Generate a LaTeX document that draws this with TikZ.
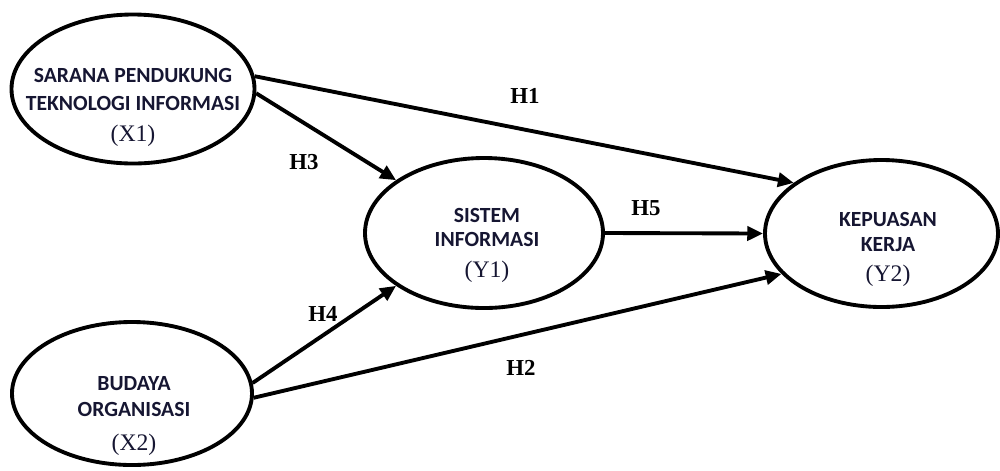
\documentclass[tikz,border=0pt]{standalone}
\usepackage{fontspec}
\usetikzlibrary{shapes, arrows.meta}
\newfontfamily\konstrukfont{Carlito}
\newfontfamily\kodefont{Liberation Serif}
\definecolor{tinta}{RGB}{22,22,50}
\newcommand{\kode}[1]{{\kodefont\mdseries\fontsize{13.5}{15}\selectfont(#1)}}

\begin{document}
\begin{tikzpicture}[
    line width=2.2pt,
    >={Triangle[length=9pt, width=8pt]},
    konstruk/.style={ellipse, draw, inner sep=0pt},
    teks/.style={anchor=north, align=center, inner sep=0pt, text=tinta, font=\konstrukfont\bfseries\fontsize{12.3}{14.5}\selectfont},
    hipo/.style={inner sep=0pt, text=black, font=\kodefont\bfseries\fontsize{13}{15}\selectfont}
]
    \useasboundingbox (0,0) rectangle (20,-9.4);

    % Constructs
    \node[konstruk, minimum width=4.86cm, minimum height=2.98cm] (X1) at (2.66,-1.78) {};
    \node[konstruk, minimum width=4.80cm, minimum height=2.86cm] (X2) at (2.64,-7.87) {};
    \node[konstruk, minimum width=4.76cm, minimum height=3.00cm] (Y1) at (9.68,-4.66) {};
    \node[konstruk, minimum width=4.66cm, minimum height=2.94cm] (Y2) at (17.63,-4.67) {};

    % Construct names
    \node[teks] (X1t) at (2.66,-1.32) {SARANA PENDUKUNG\\[1.4pt]TEKNOLOGI INFORMASI\\[3.6pt]\kode{X1}};
    \node[teks] (X2t) at (2.68,-7.50) {BUDAYA\\ORGANISASI\\[4.8pt]\kode{X2}};
    \node[teks] (Y1t) at (9.74,-4.12) {SISTEM\\[-0.9pt]INFORMASI\\[3.6pt]\kode{Y1}};
    \node[teks] (Y2t) at (17.76,-4.20) {KEPUASAN\\KERJA\\[2.5pt]\kode{Y2}};

    % Hypotheses
    \draw[->] (X1.6) -- (Y2.150);
    \draw[->] (X1.-2) -- (Y1.149);
    \draw[->] (X2.5) -- (Y1.211);
    \draw[->] (X2.-2) -- (Y2.202);
    \draw[->] (Y1.0) -- (Y2.180);

    \node[hipo] (h1) at (10.50,-1.92) {H1};
    \node[hipo] (h2) at (10.42,-7.36) {H2};
    \node[hipo] (h3) at (6.08,-3.24) {H3};
    \node[hipo] (h4) at (6.46,-6.28) {H4};
    \node[hipo] (h5) at (12.92,-4.16) {H5};

\end{tikzpicture}
\end{document}
